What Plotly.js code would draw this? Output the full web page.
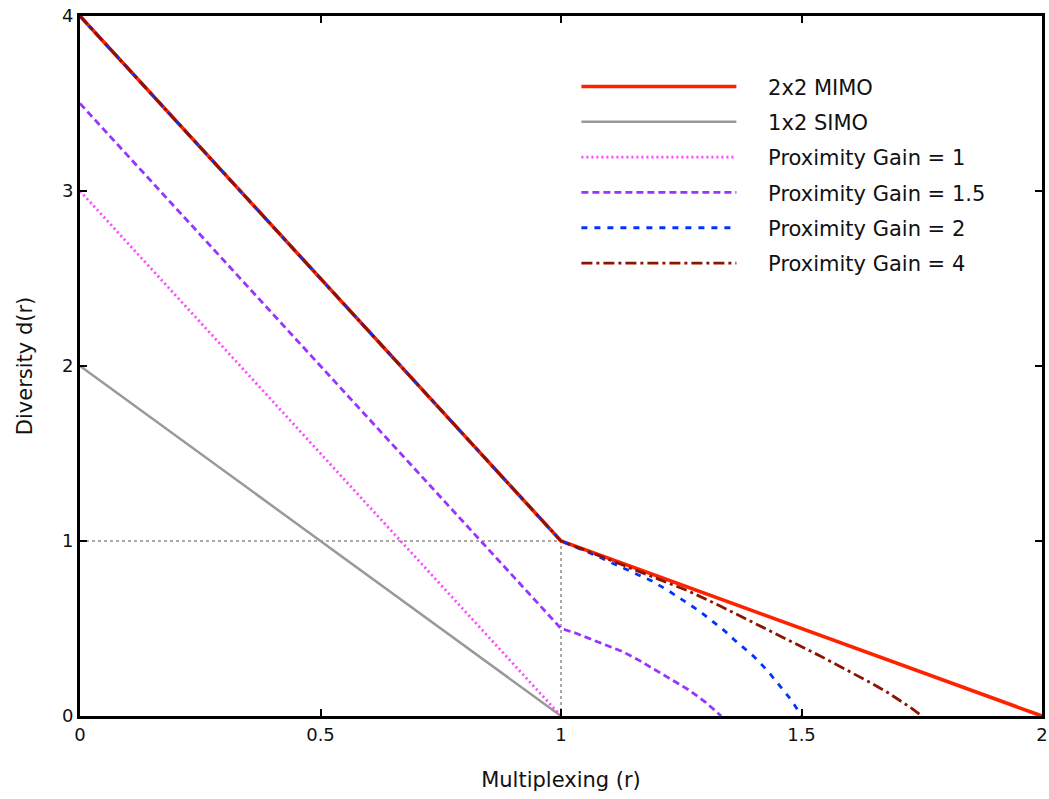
<!DOCTYPE html>
<html><head><meta charset="utf-8">
<script src="https://cdn.plot.ly/plotly-3.0.1.min.js"></script>
<style>html,body{margin:0;padding:0;background:#fff}#chart{width:1049px;height:799px}</style>
</head><body><div id="chart"></div>
<script>
// Reference guide lines
const refX = [0, 1, 1];
const refY = [1, 1, 0];

// 2x2 MIMO
const mimoR = [0, 1, 2];
const mimoD = [4, 1, 0];
// 1x2 SIMO
const simoR = [0, 1];
const simoD = [2, 0];
// Proximity Gain = 1
const g1R = [0, 1];
const g1D = [3, 0];
// Proximity Gain = 1.5
const g15R = [0, 1, 1.03, 1.057, 1.09, 1.127, 1.16, 1.196, 1.23, 1.266, 1.30, 1.333];
const g15D = [3.5, 0.5, 0.474, 0.446, 0.411, 0.369, 0.322, 0.264, 0.207, 0.149, 0.08, 0];
// Proximity Gain = 2
const g2R = [0, 1, 1.06, 1.12, 1.155, 1.189, 1.22, 1.252, 1.285, 1.315, 1.34, 1.36, 1.381, 1.401, 1.43, 1.457, 1.48, 1.5];
const g2D = [4, 1, 0.932, 0.857, 0.815, 0.771, 0.722, 0.666, 0.605, 0.541, 0.487, 0.436, 0.389, 0.34, 0.257, 0.168, 0.087, 0];
// Proximity Gain = 4
const g4R = [0, 1, 1.06, 1.12, 1.19, 1.266, 1.332, 1.436, 1.541, 1.645, 1.68, 1.708, 1.73, 1.75];
const g4D = [4, 1, 0.937, 0.872, 0.797, 0.713, 0.627, 0.484, 0.34, 0.188, 0.133, 0.082, 0.042, 0];

const names = ['2x2 MIMO', '1x2 SIMO', 'Proximity Gain = 1', 'Proximity Gain = 1.5', 'Proximity Gain = 2', 'Proximity Gain = 4'];
const xTicks = [0, 0.5, 1, 1.5, 2];
const xTickText = ['0', '0.5', '1', '1.5', '2'];
const yTicks = [0, 1, 2, 3, 4];

const FONT = 'DejaVu Sans, Verdana, sans-serif';
const PAD = '\u00a0\u00a0\u00a0\u00a0';

const traces = [
  {x: refX, y: refY, mode: 'lines', line: {color: '#aaaaaa', width: 2, dash: 'dot'}, showlegend: false, hoverinfo: 'skip'},
  {x: mimoR, y: mimoD, name: PAD + names[0], legendgroup: 'a', mode: 'lines', line: {color: '#ff2200', width: 3.6}},
  {x: simoR, y: simoD, name: PAD + names[1], legendgroup: 'b', mode: 'lines', line: {color: '#999999', width: 2.5}},
  {x: g1R, y: g1D, name: PAD + names[2], legendgroup: 'c', mode: 'lines', line: {color: '#ff44ff', width: 2.8, dash: '2px,3px'}},
  {x: g15R, y: g15D, name: PAD + names[3], legendgroup: 'd', mode: 'lines', line: {color: '#9933ff', width: 2.8, dash: '7px,4px'}},
  {x: g2R, y: g2D, name: PAD + names[4], legendgroup: 'e', mode: 'lines', line: {color: '#0033ff', width: 2.8, dash: '6px,7px'}},
  {x: g4R, y: g4D, name: PAD + names[5], legendgroup: 'f', mode: 'lines', line: {color: '#8b1500', width: 2.8, dash: '11px,4px,3px,4px'}}
];

const axisCommon = {
  showline: true, linecolor: '#000', linewidth: 3, mirror: 'ticks',
  ticks: 'inside', ticklen: 7, tickwidth: 2, tickcolor: '#000',
  showgrid: false, zeroline: false,
  tickfont: {family: FONT, size: 18, color: '#111'}
};

const layout = {
  width: 1049, height: 799,
  margin: {l: 80, r: 7, t: 16, b: 83},
  paper_bgcolor: '#fff', plot_bgcolor: '#fff',
  font: {family: FONT, size: 18, color: '#111'},
  xaxis: Object.assign({}, axisCommon, {
    range: [0, 2], tickvals: xTicks, ticktext: xTickText, ticklabelstandoff: 0,
    title: {text: 'Multiplexing (r)', font: {family: FONT, size: 21, color: '#111'}, standoff: 29}
  }),
  yaxis: Object.assign({}, axisCommon, {
    range: [0, 4], tickvals: yTicks, ticklabelstandoff: 0,
    title: {text: 'Diversity d(r)', font: {family: FONT, size: 21, color: '#111'}, standoff: 24}
  }),
  showlegend: true,
  legend: {
    x: 0.516, y: 0.928, xanchor: 'left', yanchor: 'top',
    bgcolor: 'rgba(0,0,0,0)', borderwidth: 0,
    font: {family: FONT, size: 21, color: '#111'},
    traceorder: 'grouped', tracegroupgap: 5, itemwidth: 155
  }
};

Plotly.newPlot('chart', traces, layout, {displayModeBar: false, staticPlot: true});
</script></body></html>
